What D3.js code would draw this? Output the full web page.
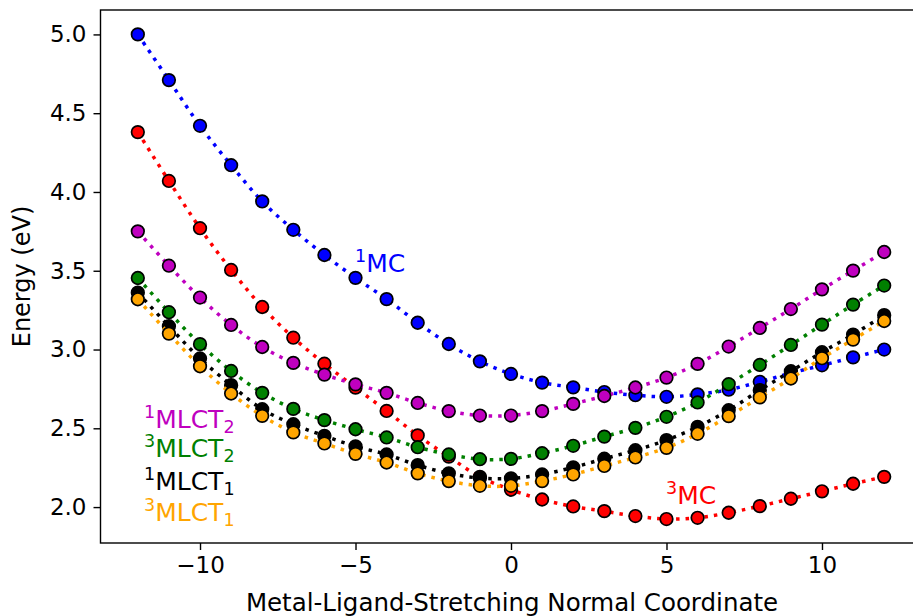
<!DOCTYPE html>
<html>
<head>
<meta charset="utf-8">
<script src="https://cdn.jsdelivr.net/npm/d3@7"></script>
<style>
  body { margin: 0; background: #fff; }
  text { font-family: "DejaVu Sans", sans-serif; }
</style>
</head>
<body>
<script>
var coords = [-12, -11, -10, -9, -8, -7, -6, -5, -4, -3, -2, -1, 0, 1, 2, 3, 4, 5, 6, 7, 8, 9, 10, 11, 12];

var mc1 = [5.00, 4.71, 4.42, 4.17, 3.94, 3.76, 3.60, 3.455, 3.32, 3.17, 3.035, 2.925, 2.845, 2.79, 2.76, 2.73, 2.71, 2.70, 2.715, 2.745, 2.795, 2.85, 2.90, 2.95, 3.00];
var mc3 = [4.38, 4.07, 3.77, 3.505, 3.27, 3.075, 2.91, 2.758, 2.61, 2.455, 2.32, 2.192, 2.11, 2.048, 2.004, 1.974, 1.943, 1.924, 1.932, 1.964, 2.006, 2.053, 2.10, 2.148, 2.192];
var mlct2s = [3.75, 3.532, 3.33, 3.156, 3.016, 2.915, 2.841, 2.779, 2.725, 2.661, 2.609, 2.581, 2.581, 2.609, 2.655, 2.705, 2.759, 2.822, 2.909, 3.019, 3.137, 3.257, 3.382, 3.501, 3.619];
var mlct2t = [3.454, 3.237, 3.034, 2.864, 2.725, 2.623, 2.552, 2.494, 2.442, 2.380, 2.334, 2.304, 2.306, 2.342, 2.389, 2.447, 2.503, 2.573, 2.664, 2.78, 2.902, 3.029, 3.158, 3.285, 3.406];
var mlct1s = [3.361, 3.148, 2.943, 2.774, 2.621, 2.526, 2.452, 2.385, 2.334, 2.266, 2.214, 2.184, 2.182, 2.207, 2.252, 2.307, 2.361, 2.425, 2.509, 2.615, 2.742, 2.862, 2.983, 3.095, 3.218];
var mlct1t = [3.319, 3.101, 2.894, 2.721, 2.579, 2.474, 2.404, 2.338, 2.283, 2.214, 2.165, 2.135, 2.135, 2.165, 2.207, 2.261, 2.315, 2.376, 2.465, 2.577, 2.696, 2.816, 2.945, 3.063, 3.181];

var xTicks = [-10, -5, 0, 5, 10];
var yTicks = [2.0, 2.5, 3.0, 3.5, 4.0, 4.5, 5.0];

var series = [
  {values: mc1, color: "#0000ff", sup: "1", name: "MC", sub: "", lx: 355, ly: 272},
  {values: mc3, color: "#ff0000", sup: "3", name: "MC", sub: "", lx: 666, ly: 504},
  {values: mlct2s, color: "#bf00bf", sup: "1", name: "MLCT", sub: "2", lx: 144, ly: 428},
  {values: mlct2t, color: "#008000", sup: "3", name: "MLCT", sub: "2", lx: 144, ly: 457},
  {values: mlct1s, color: "#000000", sup: "1", name: "MLCT", sub: "1", lx: 144, ly: 490},
  {values: mlct1t, color: "#ffa500", sup: "3", name: "MLCT", sub: "1", lx: 144, ly: 521}
];

var width = 913, height = 616;
var plotLeft = 100.5, plotRight = 921.5, plotTop = 10, plotBottom = 543;

var svg = d3.select("body").
  append("svg").
  attr("width", width).
  attr("height", height);

var x = d3.scaleLinear().domain([-13.2, 13.2]).range([plotLeft, plotRight]);
var y = d3.scaleLinear().domain([1.772, 5.155]).range([plotBottom, plotTop]);

// curves and markers
var line = d3.line()
  .x(function(d) { return x(d[0]); })
  .y(function(d) { return y(d[1]); })
  .curve(d3.curveCatmullRom.alpha(0.5));

series.forEach(function(s) {
  var pts = coords.map(function(c, i) { return [c, s.values[i]]; });
  var g = svg.append("g");

  g.append("path")
    .attr("d", line(pts))
    .attr("fill", "none")
    .attr("stroke", s.color)
    .attr("stroke-width", 3.5)
    .attr("stroke-dasharray", "3.5,6");

  g.selectAll("circle").data(pts).enter().append("circle")
    .attr("cx", function(d) { return x(d[0]); })
    .attr("cy", function(d) { return y(d[1]); })
    .attr("r", 6.3)
    .attr("fill", s.color)
    .attr("stroke", "#000")
    .attr("stroke-width", 1.7);
});

// state labels
series.forEach(function(s) {
  var t = svg.append("text")
    .attr("x", s.lx)
    .attr("y", s.ly)
    .attr("fill", s.color)
    .style("font-size", "25px");
  t.append("tspan").text(s.sup).style("font-size", "17.5px").attr("dy", -10);
  t.append("tspan").text(s.name).attr("dy", 10);
  if (s.sub) {
    t.append("tspan").text(s.sub).style("font-size", "17.5px").attr("dy", 4.7);
  }
});

// frame
svg.append("rect")
  .attr("x", plotLeft)
  .attr("y", plotTop)
  .attr("width", plotRight - plotLeft)
  .attr("height", plotBottom - plotTop)
  .attr("fill", "none")
  .attr("stroke", "#000")
  .attr("stroke-width", 1.4);

// axes
var xAxis = d3.axisBottom(x).tickValues(xTicks).tickSize(7).tickPadding(7)
  .tickFormat(function(d) { return d < 0 ? "\u2212" + Math.abs(d) : d; });
var yAxis = d3.axisLeft(y).tickValues(yTicks).tickSize(7).tickPadding(7)
  .tickFormat(d3.format(".1f"));

var gx = svg.append("g").attr("transform", "translate(0," + plotBottom + ")").call(xAxis);
var gy = svg.append("g").attr("transform", "translate(" + plotLeft + ",0)").call(yAxis);

[gx, gy].forEach(function(g) {
  g.select(".domain").remove();
  g.selectAll(".tick line").attr("stroke", "#000").attr("stroke-width", 1.4);
  g.selectAll(".tick text")
    .attr("fill", "#000")
    .style("font-family", "DejaVu Sans, sans-serif")
    .style("font-size", "23px");
});

svg.append("text")
  .attr("x", 512)
  .attr("y", 611)
  .attr("text-anchor", "middle")
  .style("font-size", "24.5px")
  .text("Metal-Ligand-Stretching Normal Coordinate");

svg.append("text")
  .attr("transform", "translate(30," + ((plotTop + plotBottom) / 2) + ") rotate(-90)")
  .attr("text-anchor", "middle")
  .style("font-size", "24px")
  .text("Energy (eV)");
</script>
</body>
</html>
